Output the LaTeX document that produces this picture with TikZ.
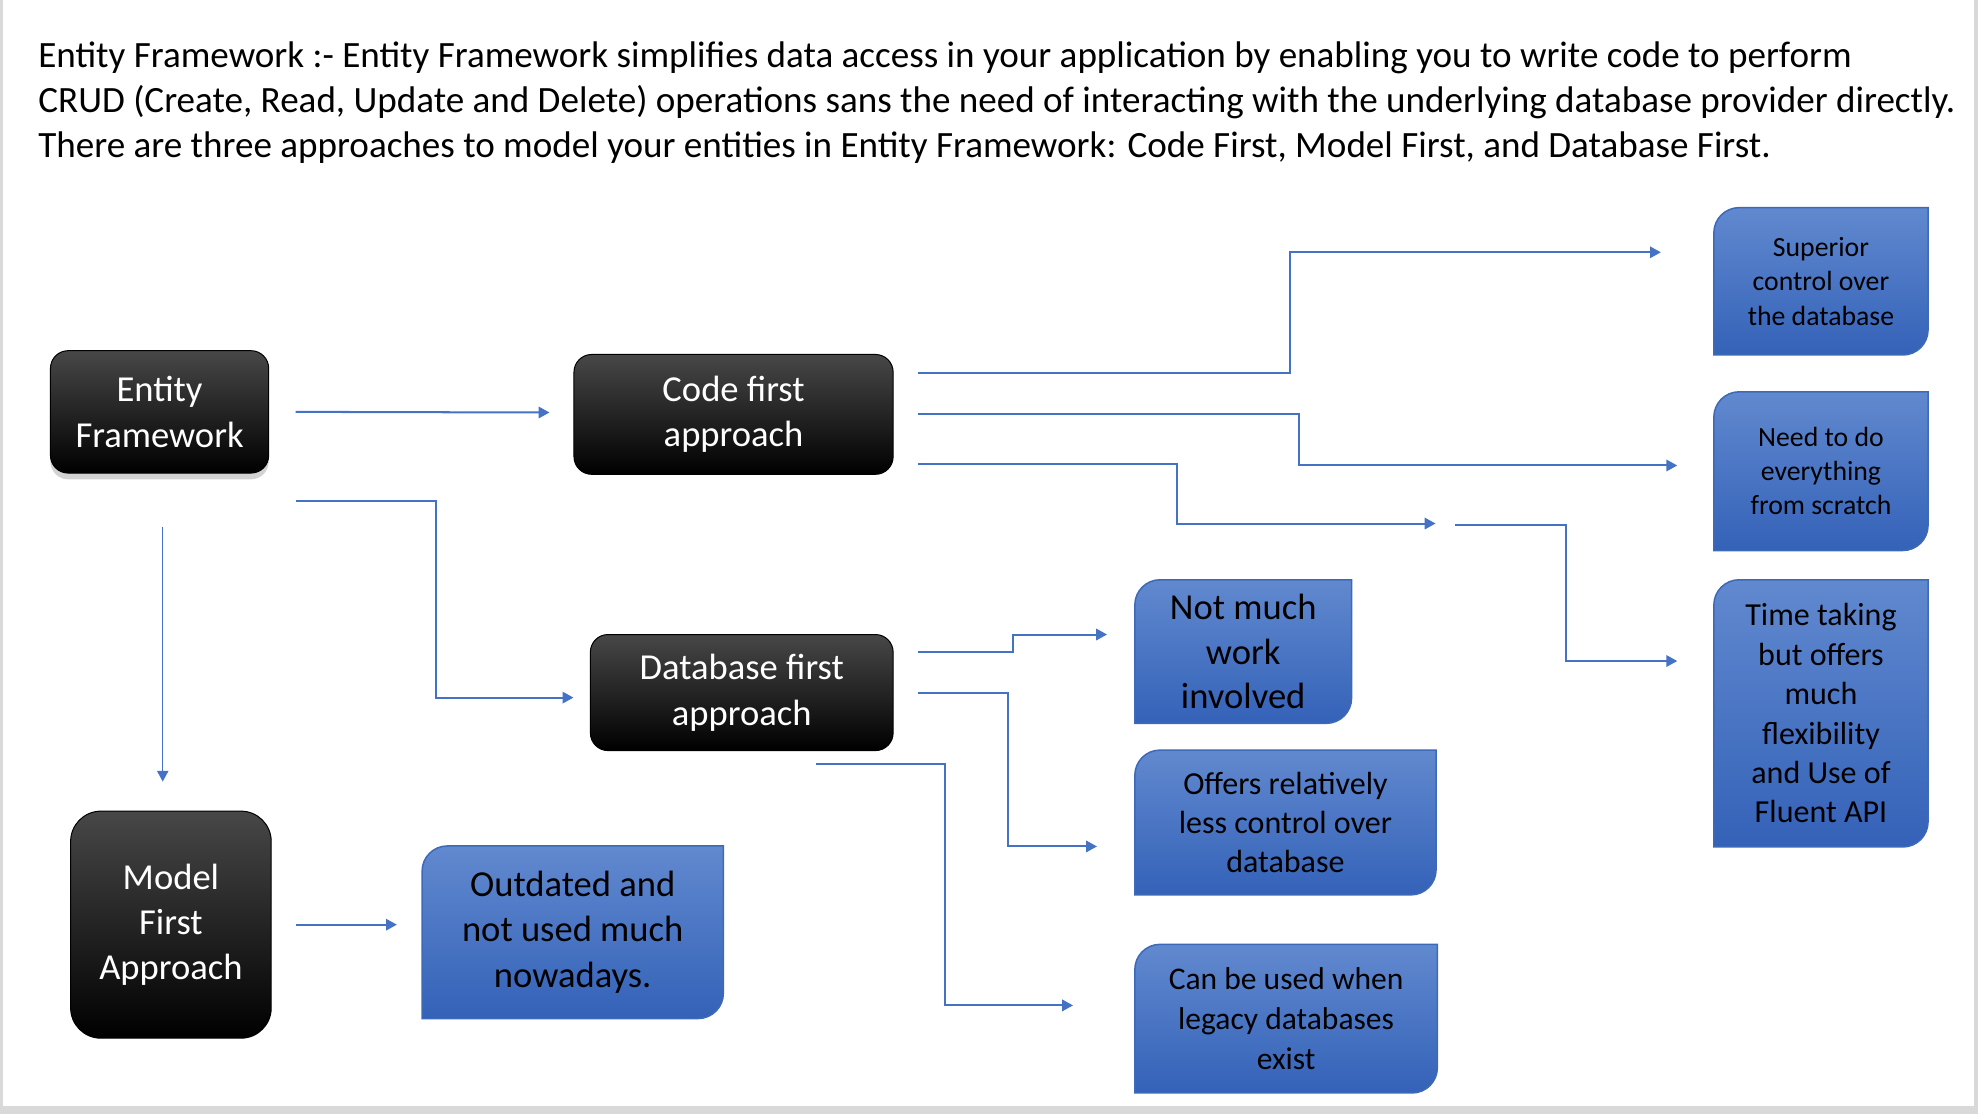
\documentclass[tikz,border=0pt]{standalone}
\usepackage{fontspec}
\setmainfont{Carlito}
\usetikzlibrary{arrows.meta,calc,backgrounds,shadows}

\definecolor{linkblue}{HTML}{4472C4}
\definecolor{boxtop}{HTML}{6189CF}
\definecolor{boxbot}{HTML}{3462B8}
\definecolor{boxline}{HTML}{3D69B9}
\definecolor{framegray}{HTML}{D9D9D9}

\tikzset{
    darkbox/.style={draw=black, rounded corners=7pt, top color=black!72, middle color=black,
        bottom color=black, text=white, align=center, inner sep=0pt,
        font=\fontsize{14.5}{18}\selectfont},
    bluebox/.style={align=center, inner sep=0pt, text=black},
    bluefill/.style={draw=boxline, line width=0.6pt, top color=boxtop, bottom color=boxbot},
    link/.style={draw=linkblue, line width=0.8pt, -{Triangle[length=4.3pt,width=4.5pt]}},
}

\begin{document}
\begin{tikzpicture}[x=0.5pt, y=-0.5pt]
        \useasboundingbox (0, 0) rectangle (1568, 883);
        \fill[framegray] (0, 877) rectangle (1568, 883);
        \fill[framegray] (0, 0) rectangle (2, 883);
        \fill[framegray] (1565, 0) rectangle (1568, 883);

        \node[anchor=north west, align=left, inner sep=0pt, font=\fontsize{14.7}{17.8}\selectfont] at (30, 33)(intro){Entity Framework :- Entity Framework simplifies data access in your application by enabling you to write code to perform\\CRUD (Create, Read, Update and Delete) operations sans the need of interacting with the underlying database provider directly.\\There are three approaches to model your entities in Entity Framework: Code First, Model First, and Database First.};

        \node[darkbox, minimum width=86.5pt, minimum height=48.5pt,
            drop shadow={opacity=0.35, shadow xshift=0pt, shadow yshift=-2.5pt}] at (126.5, 326.5)(ef){Entity\\Framework};
        \node[darkbox, minimum width=126.5pt, minimum height=47.5pt] at (581.5, 328.5)(cf){Code first\\approach};
        \node[darkbox, minimum width=120pt, minimum height=46pt] at (588, 549)(dbf){Database first\\approach};
        \node[darkbox, rounded corners=12pt, minimum width=79.5pt, minimum height=90pt] at (135.5, 733)(mf){Model\\First\\Approach};

        \node[bluebox, minimum width=119pt, minimum height=68pt, font=\fontsize{14.5}{18}\selectfont] at (454, 739)(old){Outdated and\\not used much\\nowadays.};
        \node[bluebox, minimum width=84.5pt, minimum height=58pt, font=\fontsize{11}{13.75}\selectfont] at (1443.5, 223)(sup){Superior\\control over\\the database};
        \node[bluebox, minimum width=84.5pt, minimum height=62.5pt, font=\fontsize{11}{13.5}\selectfont] at (1443.5, 373.5)(scratch){Need to do\\everything\\from scratch};
        \node[bluebox, minimum width=84.5pt, minimum height=105.5pt, font=\fontsize{12.7}{15.6}\selectfont] at (1443.5, 565.5)(flex){Time taking\\but offers\\much\\flexibility\\and Use of\\Fluent API};
        \node[bluebox, minimum width=85.5pt, minimum height=56.5pt, font=\fontsize{14.5}{17.5}\selectfont] at (985.5, 516.5)(easy){Not much\\work\\involved};
        \node[bluebox, minimum width=119pt, minimum height=57pt, font=\fontsize{12.7}{15.5}\selectfont] at (1019, 652)(less){Offers relatively\\less control over\\database};
        \node[bluebox, minimum width=119.5pt, minimum height=58.5pt, font=\fontsize{12.5}{15.8}\selectfont] at (1019.5, 807.5)(legacy){Can be used when\\legacy databases\\exist};

        % blue boxes: round top left and bottom right corners only
        \begin{scope}[on background layer]
            \foreach \b in {old, sup, scratch, flex, easy, less, legacy}
                \path[bluefill] (\b.north east) -- ([xshift=10pt]\b.north west)
                    arc[start angle=90, end angle=180, radius=10pt] -- (\b.south west)
                    -- ([xshift=-10pt]\b.south east) arc[start angle=270, end angle=360, radius=10pt] -- cycle;
        \end{scope}

        \coordinate (gapin) at (1138, 415);
        \coordinate (gapout) at (1153, 416);

        \path[link]
        ($(ef.east)+(21,0)$) -- ($(cf.west)+(-19,-1.5)$);
        \path[link] ($(ef.east)+(21,70.5)$) -- ++(111,0) |- ($(dbf.west)+(-13,4)$);
        \path[link, line width=0.55pt] ($(ef.south)+(2.5,42)$) -- ($(mf.north)+(-6.5,-23)$);
        \path[link] ($(mf.east)+(19,0)$) -- ($(old.west)+(-20,-6)$);

        \path[link] ($(cf.east)+(19,-32.5)$) -- ++(295,0) |- ($(sup.west)+(-42,-23)$);
        \path[link] ($(cf.east)+(19,-0.5)$) -- ++(302,0) |- ($(scratch.west)+(-29,-4.5)$);
        \path[link] ($(cf.east)+(19,39.5)$) -- ++(206,0) |- (gapin);
        \path[link] (gapout) -- ++(88,0) |- ($(flex.west)+(-29,-41.5)$);

        \path[link] ($(dbf.east)+(19,-32)$) -- ++(76,0) |- ($(easy.west)+(-22,-13.5)$);
        \path[link] ($(dbf.east)+(19,0)$) -- ++(72,0) |- ($(less.west)+(-30,19)$);
        \path[link] ($(dbf.south)+(59,10)$) -- ++(102,0) |- ($(legacy.west)+(-49,-10.5)$);
    \end{tikzpicture}
\end{document}
